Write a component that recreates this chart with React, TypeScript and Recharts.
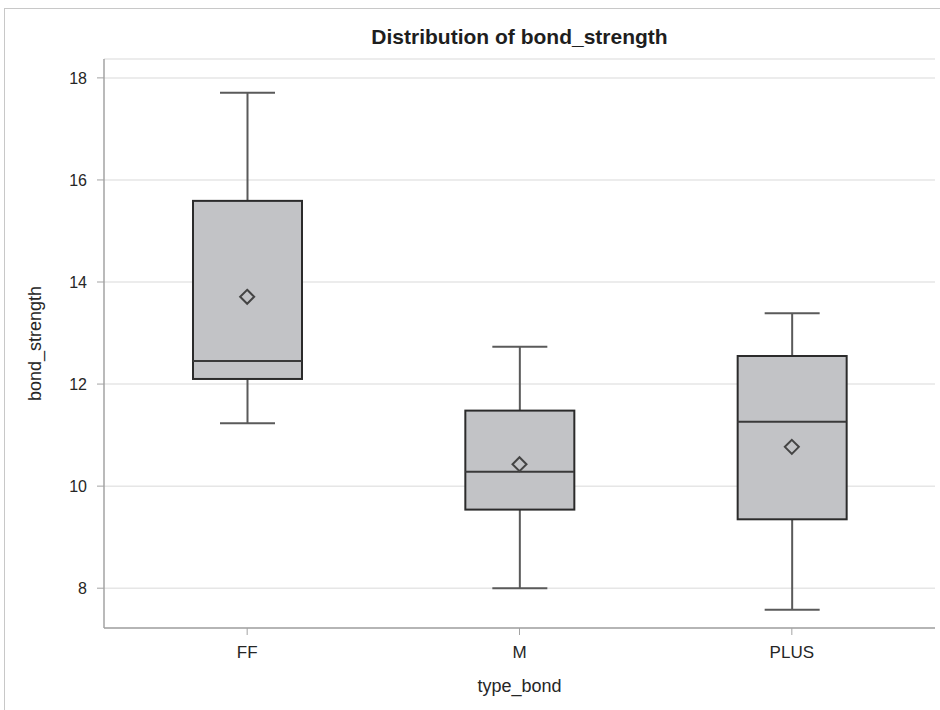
import React from "react";
import {
  Bar,
  CartesianGrid,
  ComposedChart,
  Scatter,
  XAxis,
  YAxis,
} from "recharts";

const types = ["FF", "M", "PLUS"];
const minVals = [11.23, 8.0, 7.58];
const q1Vals = [12.1, 9.54, 9.35];
const medianVals = [12.45, 10.28, 11.26];
const q3Vals = [15.59, 11.48, 12.55];
const maxVals = [17.71, 12.73, 13.39];
const meanVals = [13.71, 10.43, 10.77];
const yTicks = [8, 10, 12, 14, 16, 18];

const data = types.map((type, i) => ({
  type,
  whisker: [minVals[i], maxVals[i]],
  box: [q1Vals[i], q3Vals[i]],
  median: medianVals[i],
  mean: meanVals[i],
}));

const FONT = '"Liberation Sans", Arial, sans-serif';
const FRAME = "#a3a3a3";
const TEXT = "#262626";
const BOX_WIDTH = 109;

function WhiskerShape(props: any) {
  const { x, y, width, height } = props;
  const cx = x + width / 2;
  return (
    <g stroke="#5a5a5a" strokeWidth={2}>
      <line x1={cx} x2={cx} y1={y} y2={y + height} />
      <line x1={x} x2={x + width} y1={y} y2={y} />
      <line x1={x} x2={x + width} y1={y + height} y2={y + height} />
    </g>
  );
}

function BoxShape(props: any) {
  const { x, y, width, height } = props;
  return (
    <rect
      x={x}
      y={y}
      width={width}
      height={height}
      fill="#c2c3c6"
      stroke="#2b2b2b"
      strokeWidth={2}
    />
  );
}

function MedianShape(props: any) {
  const { cx, cy } = props;
  return (
    <line
      x1={cx - BOX_WIDTH / 2}
      x2={cx + BOX_WIDTH / 2}
      y1={cy}
      y2={cy}
      stroke="#3a3a3a"
      strokeWidth={2}
    />
  );
}

function MeanShape(props: any) {
  const { cx, cy } = props;
  const r = 7;
  return (
    <polygon
      points={`${cx},${cy - r} ${cx + r},${cy} ${cx},${cy + r} ${cx - r},${cy}`}
      fill="none"
      stroke="#444"
      strokeWidth={2}
    />
  );
}

export default function App() {
  return (
    <div
      style={{
        position: "absolute",
        left: 0,
        top: 0,
        width: 940,
        height: 710,
        overflow: "hidden",
        background: "#fff",
        fontFamily: FONT,
      }}
    >
      <style>{`body{margin:0}`}</style>
      <div
        style={{
          position: "absolute",
          left: 4,
          top: 8,
          width: 960,
          height: 720,
          border: "1px solid #c8c8c8",
        }}
      />
      <div
        style={{
          position: "absolute",
          left: 104,
          width: 831,
          top: 25,
          textAlign: "center",
          fontWeight: "bold",
          fontSize: 21,
          lineHeight: "24px",
          color: "#1e1e1e",
        }}
      >
        Distribution of bond_strength
      </div>
      <div style={{ position: "absolute", left: 0, top: 0 }}>
        <ComposedChart
          width={940}
          height={710}
          data={data}
          margin={{ top: 59, right: 5, bottom: 52, left: 34 }}
        >
          <CartesianGrid
            vertical={false}
            stroke="#e6e6e6"
            strokeWidth={1.5}
          />
          <XAxis
            dataKey="type"
            type="category"
            padding={{ left: 7, right: 7 }}
            height={30}
            tickSize={7}
            tickMargin={11}
            tick={{ fill: TEXT, fontSize: 17, fontFamily: FONT }}
            tickLine={{ stroke: FRAME }}
            axisLine={{ stroke: FRAME, strokeWidth: 1.5 }}
            label={{
              value: "type_bond",
              content: ({ viewBox }: any) => (
                <text
                  x={viewBox.x + viewBox.width / 2}
                  y={viewBox.y + viewBox.height + 28}
                  textAnchor="middle"
                  dominantBaseline="central"
                  fill={TEXT}
                  fontSize={18}
                  fontFamily={FONT}
                >
                  type_bond
                </text>
              ),
            }}
          />
          <XAxis
            xAxisId="top"
            dataKey="type"
            type="category"
            orientation="top"
            padding={{ left: 7, right: 7 }}
            height={0}
            tick={false}
            tickLine={false}
            axisLine={{ stroke: FRAME, strokeWidth: 1.5 }}
          />
          <YAxis
            type="number"
            domain={[7.22, 18.37]}
            ticks={yTicks}
            allowDataOverflow
            width={70}
            tickSize={7}
            tickMargin={10}
            tick={{ fill: TEXT, fontSize: 16, fontFamily: FONT }}
            tickLine={{ stroke: FRAME }}
            axisLine={{ stroke: FRAME, strokeWidth: 1.5 }}
            label={{
              value: "bond_strength",
              content: ({ viewBox }: any) => {
                const lx = viewBox.x + 1;
                const ly = viewBox.y + viewBox.height / 2;
                return (
                  <text
                    x={lx}
                    y={ly}
                    transform={`rotate(-90 ${lx} ${ly})`}
                    textAnchor="middle"
                    dominantBaseline="central"
                    fill={TEXT}
                    fontSize={18}
                    fontFamily={FONT}
                  >
                    bond_strength
                  </text>
                );
              },
            }}
          />
          <YAxis
            yAxisId="right"
            orientation="right"
            type="number"
            domain={[0, 1]}
            width={0}
            tick={false}
            tickLine={false}
            axisLine={{ stroke: FRAME, strokeWidth: 1.5 }}
          />
          <Bar
            xAxisId="top"
            dataKey="whisker"
            barSize={55}
            shape={<WhiskerShape />}
            isAnimationActive={false}
          />
          <Bar
            dataKey="box"
            barSize={BOX_WIDTH}
            shape={<BoxShape />}
            isAnimationActive={false}
          />
          <Scatter
            dataKey="median"
            shape={<MedianShape />}
            isAnimationActive={false}
          />
          <Scatter
            dataKey="mean"
            shape={<MeanShape />}
            isAnimationActive={false}
          />
        </ComposedChart>
      </div>
    </div>
  );
}
